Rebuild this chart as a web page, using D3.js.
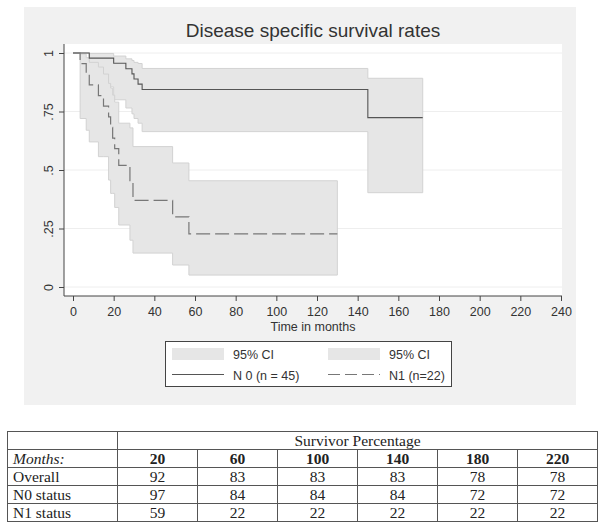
<!DOCTYPE html>
<html><head><meta charset="utf-8">
<script src="https://cdn.jsdelivr.net/npm/d3@7"></script>
<style>body{margin:0;background:#fff}svg{display:block}</style>
</head><body><svg id="c" width="604" height="530"></svg>
<script>
// ---- data ----
const n0Time  = [0, 8, 20, 26, 29, 30, 32, 34, 145, 172];
const n0Surv  = [1, 0.978, 0.956, 0.933, 0.911, 0.889, 0.867, 0.844, 0.724, 0.724];
const n0Lower = [1, 0.855, 0.80, 0.765, 0.74, 0.72, 0.70, 0.664, 0.403, 0.403];
const n0Upper = [1, 0.998, 0.987, 0.975, 0.968, 0.96, 0.955, 0.934, 0.892, 0.892];

const n1Time  = [0, 3.5, 6.5, 8, 12.5, 15, 17.5, 18.5, 19.5, 20.5, 22.5, 28, 29.5, 49, 57, 130];
const n1Surv  = [1, 0.955, 0.909, 0.864, 0.818, 0.773, 0.727, 0.682, 0.636, 0.591, 0.52, 0.455, 0.37, 0.30, 0.227, 0.227];
const n1Lower = [1, 0.72, 0.67, 0.62, 0.557, 0.557, 0.457, 0.40, 0.40, 0.34, 0.265, 0.20, 0.145, 0.094, 0.051, 0.051];
const n1Upper = [1, 0.995, 0.98, 0.96, 0.94, 0.91, 0.87, 0.85, 0.82, 0.79, 0.70, 0.68, 0.60, 0.53, 0.454, 0.454];

const xTicks = [0, 20, 40, 60, 80, 100, 120, 140, 160, 180, 200, 220, 240];
const yTicks = [0, 0.25, 0.5, 0.75, 1];
const yTickLabels = ["0", ".25", ".5", ".75", "1"];

const legendLabels = ["95% CI", "95% CI", "N 0 (n = 45)", "N1 (n=22)"];

const tableTitle = "Survivor Percentage";
const tableMonths = [20, 60, 100, 140, 180, 220];
const rowLabels = ["Overall", "N0 status", "N1 status"];
const overallPct = [92, 83, 83, 83, 78, 78];
const n0Pct = [97, 84, 84, 84, 72, 72];
const n1Pct = [59, 22, 22, 22, 22, 22];

// ---- drawing ----
const svg = d3.select("#c");
const sans = "'Liberation Sans', Arial, sans-serif";
const serif = "'Liberation Serif', 'Times New Roman', serif";

svg.append("rect").attr("x", 24).attr("y", 7).attr("width", 552).attr("height", 398).attr("fill", "#f1f1f1");
svg.append("rect").attr("x", 64).attr("y", 44).attr("width", 498).attr("height", 252).attr("fill", "#fff");

const x = d3.scaleLinear().domain([0, 240]).range([73, 561]);
const y = d3.scaleLinear().domain([0, 1]).range([287, 53]);

// grid
svg.append("g").selectAll("line").data(yTicks).join("line")
  .attr("x1", 64).attr("x2", 562).attr("y1", d => y(d)).attr("y2", d => y(d))
  .attr("stroke", "#eeeeee").attr("stroke-width", 1);

function pts(t, a, b) { return t.map((v, i) => ({t: v, a: a[i], b: b ? b[i] : null})); }
const area = d3.area().curve(d3.curveStepAfter).x(d => x(d.t)).y0(d => y(d.a)).y1(d => y(d.b));
const line = d3.line().curve(d3.curveStepAfter).x(d => x(d.t)).y(d => y(d.a));

svg.append("path").datum(pts(n0Time, n0Lower, n0Upper)).attr("d", area)
  .attr("fill", "#e6e6e6").attr("stroke", "#d2d2d2").attr("stroke-width", 1);
svg.append("path").datum(pts(n1Time, n1Lower, n1Upper)).attr("d", area)
  .attr("fill", "#e6e6e6").attr("stroke", "#d2d2d2").attr("stroke-width", 1);

svg.append("path").datum(pts(n0Time, n0Surv)).attr("d", line)
  .attr("fill", "none").attr("stroke", "#555").attr("stroke-width", 1.1);
svg.append("path").datum(pts(n1Time, n1Surv)).attr("d", line)
  .attr("fill", "none").attr("stroke", "#777").attr("stroke-width", 1.2).attr("stroke-dasharray", "14,5");

// axes
const xa = svg.append("g").attr("transform", "translate(0,296)")
  .call(d3.axisBottom(x).tickValues(xTicks).tickSize(5).tickPadding(6).tickSizeOuter(0));
xa.select(".domain").remove();
xa.selectAll("line").attr("stroke", "#444");
xa.selectAll("text").attr("font-family", sans).attr("font-size", 12.5).attr("fill", "#333");

const ya = svg.append("g").attr("transform", "translate(64,0)")
  .call(d3.axisLeft(y).tickValues(yTicks).tickSize(5).tickFormat((d, i) => yTickLabels[i]).tickSizeOuter(0));
ya.select(".domain").remove();
ya.selectAll("line").attr("stroke", "#444");
ya.selectAll("text")
  .attr("x", null).attr("dy", null)
  .attr("text-anchor", "middle")
  .attr("transform", "translate(-11,0) rotate(-90)")
  .attr("font-family", sans).attr("font-size", 12.5).attr("fill", "#333");

svg.append("line").attr("x1", 64).attr("x2", 562).attr("y1", 296).attr("y2", 296).attr("stroke", "#444");
svg.append("line").attr("x1", 64).attr("x2", 64).attr("y1", 44).attr("y2", 296).attr("stroke", "#444");

// titles
svg.append("text").attr("x", 313).attr("y", 36.5).attr("text-anchor", "middle")
  .attr("font-family", sans).attr("font-size", 19).attr("fill", "#333").text("Disease specific survival rates");
svg.append("text").attr("x", 313).attr("y", 331).attr("text-anchor", "middle")
  .attr("font-family", sans).attr("font-size", 12.5).attr("fill", "#333").text("Time in months");

// legend
const lg = svg.append("g");
lg.append("rect").attr("x", 165.5).attr("y", 341.5).attr("width", 286).attr("height", 45)
  .attr("fill", "#fff").attr("stroke", "#444");
[172, 328].forEach((sx, i) => {
  lg.append("rect").attr("x", sx).attr("y", 348).attr("width", 52).attr("height", 12).attr("fill", "#e6e6e6");
  lg.append("text").attr("x", sx + 61).attr("y", 359).attr("font-family", sans).attr("font-size", 12.5)
    .attr("fill", "#333").text(legendLabels[i]);
});
lg.append("line").attr("x1", 172).attr("x2", 224).attr("y1", 374.5).attr("y2", 374.5).attr("stroke", "#555");
lg.append("line").attr("x1", 328).attr("x2", 380).attr("y1", 374.5).attr("y2", 374.5).attr("stroke", "#777")
  .attr("stroke-dasharray", "12,5").attr("stroke-width", 1.1);
lg.append("text").attr("x", 233).attr("y", 380).attr("font-family", sans).attr("font-size", 12.5).attr("fill", "#333").text(legendLabels[2]);
lg.append("text").attr("x", 389).attr("y", 380).attr("font-family", sans).attr("font-size", 12.5).attr("fill", "#333").text(legendLabels[3]);

// table
const tX0 = 7.5, tX1 = 117.5, tW = 80, tY0 = 431.5, rH = 18;
const tb = svg.append("g");
const colX = d3.range(7).map(i => tX1 + i * tW);
const tEnd = colX[6];
tb.append("rect").attr("x", tX0).attr("y", tY0).attr("width", tEnd - tX0).attr("height", rH * 5)
  .attr("fill", "none").attr("stroke", "#555");
for (let r = 1; r < 5; r++) {
  tb.append("line").attr("x1", tX0).attr("x2", tEnd).attr("y1", tY0 + r * rH).attr("y2", tY0 + r * rH)
    .attr("stroke", "#555");
}
tb.append("line").attr("x1", tX1).attr("x2", tX1).attr("y1", tY0).attr("y2", tY0 + 5 * rH).attr("stroke", "#555");
colX.slice(1, 6).forEach(cx => {
  tb.append("line").attr("x1", cx).attr("x2", cx).attr("y1", tY0 + rH).attr("y2", tY0 + 5 * rH).attr("stroke", "#555");
});
const txt = (xx, yy, s, anchor, extra) => {
  const t = tb.append("text").attr("x", xx).attr("y", yy).attr("text-anchor", anchor)
    .attr("font-family", serif).attr("font-size", 15.5).attr("fill", "#222").text(s);
  if (extra) extra(t);
  return t;
};
txt((tX1 + tEnd) / 2, tY0 + 14, tableTitle, "middle");
txt(13, tY0 + rH + 14, "Months:", "start", t => t.attr("font-style", "italic"));
tableMonths.forEach((m, i) => txt(colX[i] + tW / 2, tY0 + rH + 14, m, "middle", t => t.attr("font-weight", "bold")));
[overallPct, n0Pct, n1Pct].forEach((row, r) => {
  txt(13, tY0 + (r + 2) * rH + 14, rowLabels[r], "start");
  row.forEach((v, i) => txt(colX[i] + tW / 2, tY0 + (r + 2) * rH + 14, v, "middle"));
});
</script></body></html>
